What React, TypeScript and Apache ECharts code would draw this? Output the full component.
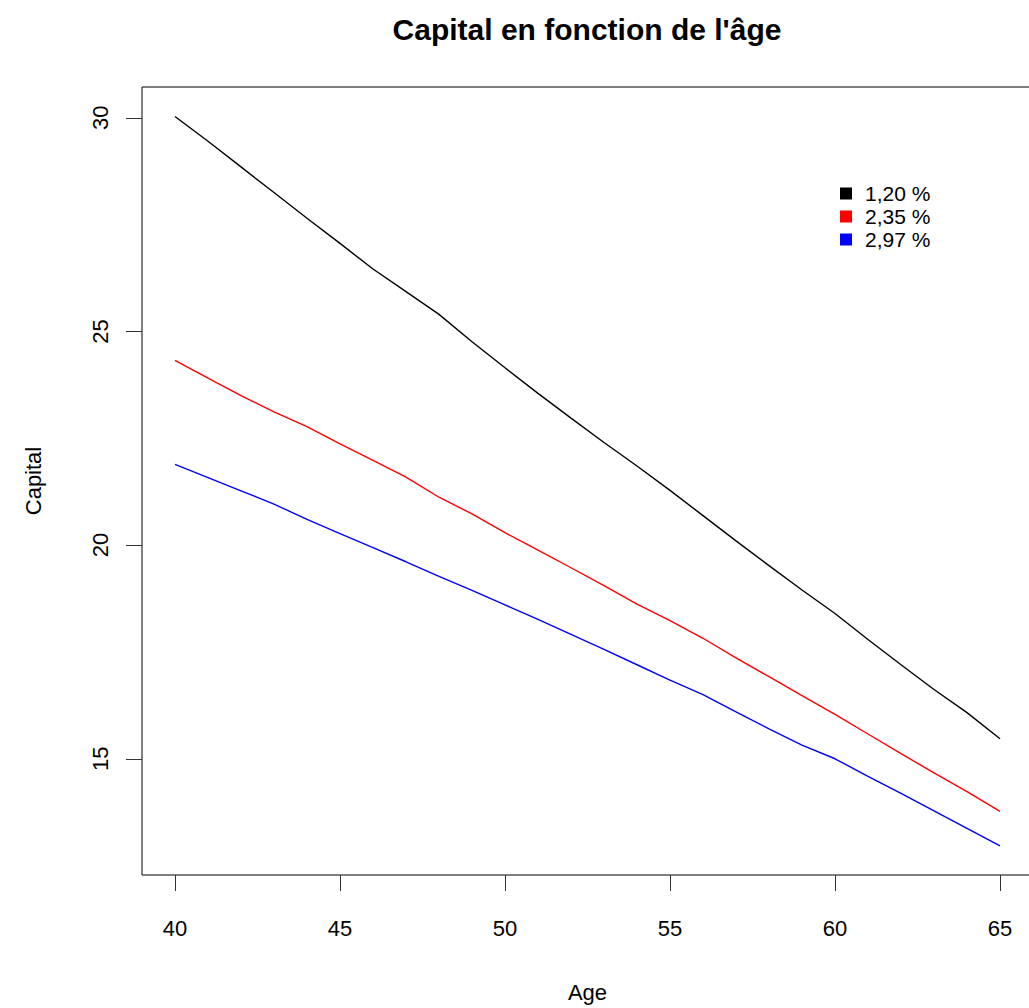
import React, { useEffect, useRef } from "react";
import * as echarts from "echarts";

const ages = [40, 41, 42, 43, 44, 45, 46, 47, 48, 49, 50, 51, 52, 53, 54, 55, 56, 57, 58, 59, 60, 61, 62, 63, 64, 65];
const capital120 = [30.03, 29.45, 28.85, 28.25, 27.65, 27.06, 26.46, 25.93, 25.4, 24.76, 24.15, 23.55, 22.97, 22.4, 21.85, 21.28, 20.69, 20.1, 19.52, 18.95, 18.4, 17.79, 17.2, 16.62, 16.08, 15.47];
const capital235 = [24.32, 23.91, 23.5, 23.12, 22.77, 22.37, 21.98, 21.59, 21.12, 20.73, 20.29, 19.88, 19.47, 19.05, 18.62, 18.23, 17.82, 17.36, 16.92, 16.48, 16.04, 15.58, 15.12, 14.67, 14.23, 13.77];
const capital297 = [21.89, 21.58, 21.27, 20.96, 20.6, 20.27, 19.94, 19.61, 19.27, 18.94, 18.6, 18.26, 17.91, 17.56, 17.2, 16.84, 16.5, 16.1, 15.7, 15.32, 15.0, 14.59, 14.19, 13.78, 13.37, 12.96];
const seriesNames = ["1,20 %", "2,35 %", "2,97 %"];
const seriesColors = ["#000000", "#ff0000", "#0000ff"];
const xTicks = [40, 45, 50, 55, 60, 65];
const yTicks = [15, 20, 25, 30];

const FONT = "'Liberation Sans', Arial, Helvetica, sans-serif";

export default function App() {
  const ref = useRef<HTMLDivElement>(null);
  useEffect(() => {
    document.body.style.margin = "0";
    const chart = echarts.init(ref.current!, undefined, { renderer: "svg" });
    const values = [capital120, capital235, capital297];
    chart.setOption({
      animation: false,
      backgroundColor: "#ffffff",
      textStyle: { fontFamily: FONT },
      title: {
        text: "Capital en fonction de l'âge",
        left: 587,
        top: 14,
        padding: 0,
        textAlign: "center",
        textStyle: { fontFamily: FONT, fontWeight: "bold", fontSize: 30, color: "#000" },
      },
      legend: {
        orient: "vertical",
        left: 840,
        top: 183,
        padding: 0,
        icon: "rect",
        itemWidth: 12,
        itemHeight: 12,
        itemGap: 2,
        data: seriesNames,
        textStyle: { fontFamily: FONT, fontSize: 21, color: "#000", lineHeight: 21, padding: [0, 0, 0, 8] },
      },
      grid: {
        left: 142,
        top: 87,
        right: 7,
        bottom: 128,
        show: true,
        borderColor: "#000",
        borderWidth: 1,
        backgroundColor: "#fff",
        containLabel: false,
      },
      xAxis: {
        type: "value",
        min: 39,
        max: 66,
        name: "Age",
        nameLocation: "middle",
        nameGap: 106,
        nameTextStyle: { fontFamily: FONT, fontSize: 22, color: "#000" },
        axisLine: { show: false },
        splitLine: { show: false },
        axisTick: { show: true, customValues: xTicks, length: 16, inside: false, lineStyle: { color: "#333", width: 1 } },
        axisLabel: { customValues: xTicks, margin: 42, fontFamily: FONT, fontSize: 22, color: "#000" },
      },
      yAxis: {
        type: "value",
        min: 12.28,
        max: 30.72,
        name: "Capital",
        nameLocation: "middle",
        nameGap: 98,
        nameRotate: 90,
        nameTextStyle: { fontFamily: FONT, fontSize: 22, color: "#000" },
        axisLine: { show: false },
        splitLine: { show: false },
        axisTick: { show: true, customValues: yTicks, length: 16, inside: false, lineStyle: { color: "#333", width: 1 } },
        axisLabel: { customValues: yTicks, rotate: 90, margin: 31, fontFamily: FONT, fontSize: 22, color: "#000", align: "center", verticalAlign: "bottom" },
      },
      series: seriesNames.map((n, i) => ({
        name: n,
        type: "line",
        data: ages.map((a, j) => [a, values[i][j]]),
        showSymbol: false,
        symbol: "none",
        lineStyle: { color: seriesColors[i], width: 1.4 },
        itemStyle: { color: seriesColors[i] },
      })),
    });
    return () => chart.dispose();
  }, []);
  return (
    <div style={{ width: 1029, height: 1008, overflow: "hidden" }}>
      <div ref={ref} style={{ width: 1040, height: 1008 }} />
    </div>
  );
}
